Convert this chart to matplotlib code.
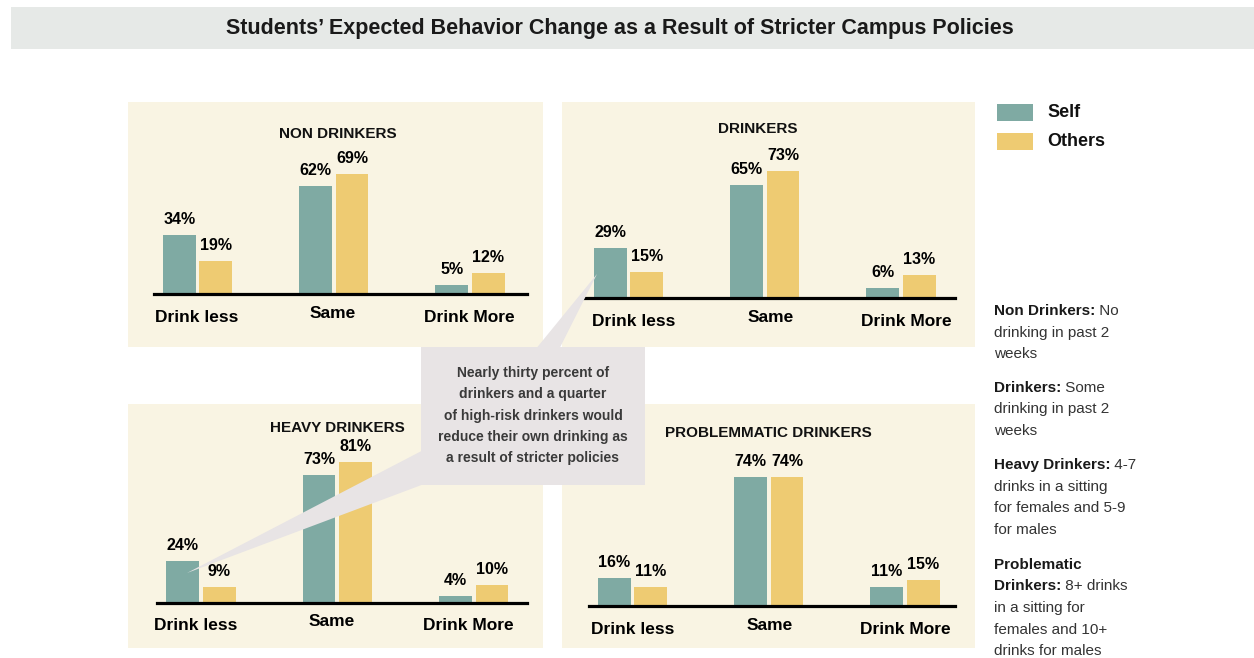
import matplotlib
matplotlib.use('Agg')
import matplotlib.pyplot as plt
from matplotlib.patches import Rectangle, Polygon

plt.rcParams['font.family'] = ['Liberation Sans', 'DejaVu Sans']

# data (percent)
categories = ['Drink less', 'Same', 'Drink More']
panel_titles = ['NON DRINKERS', 'DRINKERS', 'HEAVY DRINKERS', 'PROBLEMMATIC DRINKERS']
non_self = [34, 62, 5]
non_others = [19, 69, 12]
drk_self = [29, 65, 6]
drk_others = [15, 73, 13]
heavy_self = [24, 73, 4]
heavy_others = [9, 81, 10]
prob_self = [16, 74, 11]
prob_others = [11, 74, 15]
legend_labels = ['Self', 'Others']

callout = ['Nearly thirty percent of', 'drinkers and a quarter', 'of high-risk drinkers would',
           'reduce their own drinking as', 'a result of stricter policies']
definitions = [
    [('Non Drinkers:', ' No'), ('', 'drinking in past 2'), ('', 'weeks')],
    [('Drinkers:', ' Some'), ('', 'drinking in past 2'), ('', 'weeks')],
    [('Heavy Drinkers:', ' 4-7'), ('', 'drinks in a sitting'), ('', 'for females and 5-9'), ('', 'for males')],
    [('Problematic', ''), ('Drinkers:', ' 8+ drinks'), ('', 'in a sitting for'), ('', 'females and 10+'), ('', 'drinks for males')],
]

SELF_C = '#7faaa3'
OTH_C = '#eecb72'
PANEL_C = '#f9f4e3'
BOX_C = '#e8e4e5'

W, H = 1254, 658
fig = plt.figure(figsize=(W / 100, H / 100), dpi=100)

# full-figure axes in pixel coords, one under the charts and one over them
under = fig.add_axes([0, 0, 1, 1], zorder=0)
over = fig.add_axes([0, 0, 1, 1], zorder=10)
for a in (under, over):
    a.set_xlim(0, W)
    a.set_ylim(H, 0)
    a.axis('off')
    a.patch.set_alpha(0)

under.add_patch(Rectangle((11, 7), W - 11, 42, color='#e6e9e7', lw=0))
under.text(620, 28.5, 'Students\u2019 Expected Behavior Change as a Result of Stricter Campus Policies',
           ha='center', va='center', fontsize=15.5, fontweight='bold', color='#1a1a1a')

# panel layout in pixels: background box, baseline, axis span, first group centre, title pos, label shift
panels = [
    dict(bg=(128, 102, 543, 347), base=294, xl=154, xr=527, c0=197.5, t=(338, 134), sh=-1),
    dict(bg=(562, 102, 975, 347), base=298, xl=583, xr=955, c0=628.5, t=(758, 129), sh=5.5),
    dict(bg=(128, 404, 543, 648), base=602.5, xl=157, xr=527, c0=201, t=(337, 428), sh=-5.5),
    dict(bg=(562, 404, 975, 648), base=606, xl=589, xr=955, c0=632.5, t=(768, 433), sh=0.5),
]
series = [(non_self, non_others), (drk_self, drk_others),
          (heavy_self, heavy_others), (prob_self, prob_others)]

SP = 136.3      # px between groups
SCALE = 1.74    # px per percent
YMAX = 90
PT = 0.72       # points per pixel
bw = 32.7 / SP
off = 18.3 / SP

for p, (s_vals, o_vals), title in zip(panels, series, panel_titles):
    x0, y0, x1, y1 = p['bg']
    under.add_patch(Rectangle((x0, y0), x1 - x0, y1 - y0, color=PANEL_C, lw=0))
    under.text(p['t'][0], p['t'][1], title, ha='center', va='center',
               fontsize=11, fontweight='bold', color='#111111')

    h = YMAX * SCALE
    ax = fig.add_axes([p['xl'] / W, 1 - p['base'] / H, (p['xr'] - p['xl']) / W, h / H], zorder=5)
    ax.patch.set_alpha(0)
    ax.set_xlim((p['xl'] - p['c0']) / SP, (p['xr'] - p['c0']) / SP)
    ax.set_ylim(0, YMAX)
    for side in ['top', 'left', 'right']:
        ax.spines[side].set_visible(False)
    ax.spines['bottom'].set_linewidth(2.3)
    ax.spines['bottom'].set_zorder(4)
    ax.set_xticks([])
    ax.set_yticks([])

    xs = list(range(len(categories)))
    ax.bar([x - off for x in xs], s_vals, width=bw, color=SELF_C, zorder=2)
    ax.bar([x + off for x in xs], o_vals, width=bw, color=OTH_C, zorder=2)
    for x, v in zip(xs, s_vals):
        ax.annotate(f'{v}%', xy=(x - off, v), xytext=(0, 15.5 * PT), textcoords='offset points',
                    ha='center', va='center', fontsize=11.5, fontweight='bold', annotation_clip=False)
    for x, v in zip(xs, o_vals):
        ax.annotate(f'{v}%', xy=(x + off, v), xytext=(0, 15.5 * PT), textcoords='offset points',
                    ha='center', va='center', fontsize=11.5, fontweight='bold', annotation_clip=False)
    for x, cat in zip(xs, categories):
        dy = 19 if cat == 'Same' else 23
        ax.annotate(cat, xy=(x, 0), xytext=(p['sh'] * PT, -dy * PT), textcoords='offset points',
                    ha='center', va='center', fontsize=12.5, fontweight='bold', annotation_clip=False)

# callout box with its two pointers
over.add_patch(Rectangle((421, 347), 224, 138, color=BOX_C, lw=0))
over.add_patch(Polygon([(537, 347.5), (560, 347.5), (597, 274)], closed=True, color=BOX_C, lw=0))
over.add_patch(Polygon([(421.5, 451), (421.5, 485), (187, 573)], closed=True, color=BOX_C, lw=0))
for i, line in enumerate(callout):
    over.text(533, 373 + i * 21.3, line, ha='center', va='center', fontsize=10,
              fontweight='bold', color='#3a3a3a')

# legend
for i, (lab, c) in enumerate(zip(legend_labels, [SELF_C, OTH_C])):
    y = 104 + i * 29
    over.add_patch(Rectangle((997, y), 36, 16.5, color=c, lw=0))
    over.text(1047, y + 8.5, lab, ha='left', va='center', fontsize=13, fontweight='bold', color='#111111')

# definitions on the right
starts = [311, 388, 465, 565]
for block, y in zip(definitions, starts):
    for j, (b, r) in enumerate(block):
        yy = y + j * 21.5
        if b:
            bt = over.text(994, yy, b, ha='left', va='center', fontsize=11, fontweight='bold', color='#1a1a1a')
            if r:
                over.annotate(r, xy=(1, 0), xycoords=bt, ha='left', va='bottom',
                              fontsize=11, color='#333333')
        else:
            over.text(994, yy, r, ha='left', va='center', fontsize=11, color='#333333')

fig.savefig('out.png', dpi=100, facecolor='white')
